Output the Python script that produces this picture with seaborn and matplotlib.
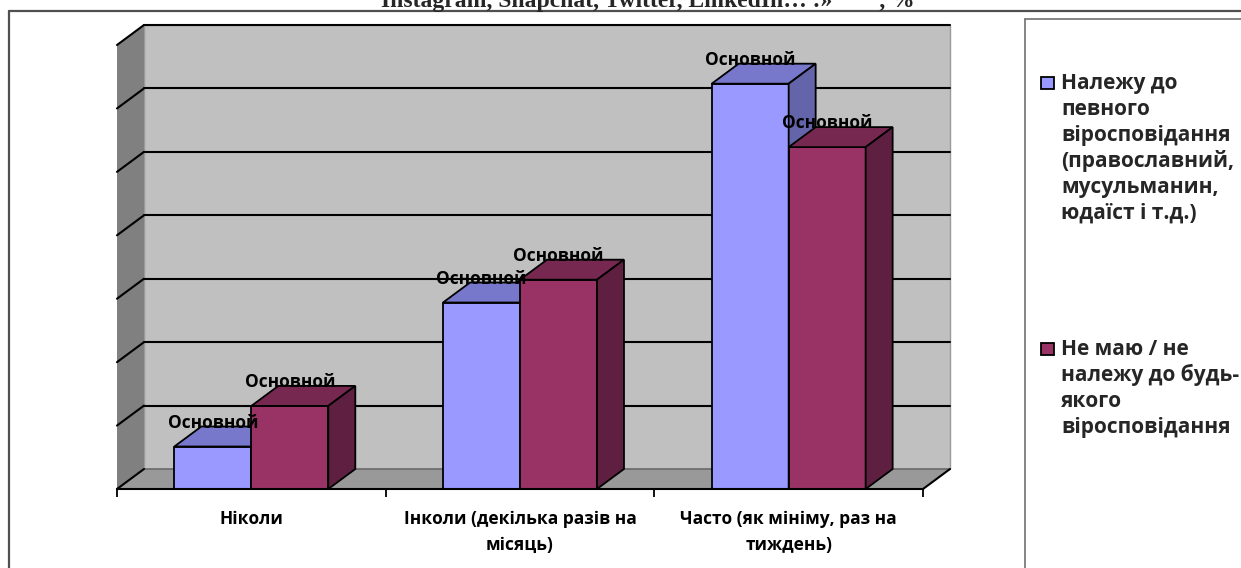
import matplotlib
matplotlib.use("Agg")
import matplotlib.pyplot as plt
import seaborn as sns
import pandas as pd
from matplotlib.patches import Polygon, Rectangle
from matplotlib.lines import Line2D

# ---------------- data ----------------
categories = ["Ніколи",
              "Інколи (декілька разів на місяць)",
              "Часто (як мініму, раз на тиждень)"]
tick_labels = ["Ніколи",
               "Інколи (декілька разів на\nмісяць)",
               "Часто (як мініму, раз на\nтиждень)"]
series_names = ["Належу до певного віросповідання (православний, мусульманин, юдаїст і т.д.)",
                "Не маю / не належу до будь-якого віросповідання"]
legend_lines = [["Належу до", "певного", "віросповідання", "(православний,",
                 "мусульманин,", "юдаїст і т.д.)"],
                ["Не маю / не", "належу до будь-", "якого", "віросповідання"]]
believers = [6.7, 29.4, 63.9]
non_believers = [13.1, 33.0, 53.9]
data_label = "Основной"
title = "Instagram, Snapchat, Twitter, LinkedIn… :»        , %"

front_colors = ["#9999FF", "#993366"]
top_colors = ["#7777CC", "#772850"]
side_colors = ["#6464AA", "#5E1F40"]

df = pd.DataFrame({
    "cat": categories * 2,
    "value": believers + non_believers,
    "series": [series_names[0]] * 3 + [series_names[1]] * 3,
})

sns.set_theme(style="white")
FONT = ["Open Sans", "DejaVu Sans"]
plt.rcParams["font.family"] = FONT

W, H = 1241, 568
fig = plt.figure(figsize=(W / 100, H / 100), dpi=100)
ax_l, ax_b, ax_w, ax_h = 117, 79, 806, 444
ax = fig.add_axes([ax_l / W, ax_b / H, ax_w / W, ax_h / H])
ax.patch.set_alpha(0)

YMAX = 70
ddx = 27 / (ax_w / 3)
ddy = 20 / (ax_h / YMAX)
x0, x1 = -0.5, 2.5

# walls & floor
ax.add_patch(Rectangle((x0 + ddx, ddy), 3, YMAX, facecolor="#C0C0C0",
                       edgecolor="#9a9a9a", lw=1, zorder=0, clip_on=False))
ax.add_patch(Polygon([(x0, 0), (x0, YMAX), (x0 + ddx, YMAX + ddy), (x0 + ddx, ddy)],
                     closed=True, facecolor="#808080", edgecolor="none", zorder=0.5, clip_on=False))
ax.add_patch(Polygon([(x0, 0), (x1, 0), (x1 + ddx, ddy), (x0 + ddx, ddy)],
                     closed=True, facecolor="#999999", edgecolor="none", zorder=0.5, clip_on=False))
ax.add_line(Line2D([x0 + ddx, x1 + ddx], [ddy, ddy], color="#6a6a6a", lw=1.2, zorder=0.6, clip_on=False))
ax.add_line(Line2D([x1, x1 + ddx], [0, ddy], color="black", lw=1.5, zorder=0.7, clip_on=False))
ax.add_line(Line2D([x0, x0 + ddx], [0, ddy], color="black", lw=1.5, zorder=0.7, clip_on=False))
for v in range(10, YMAX + 1, 10):
    ax.add_line(Line2D([x0 + ddx, x1 + ddx], [v + ddy, v + ddy], color="black",
                       lw=1.5, zorder=0.6, clip_on=False))
    ax.add_line(Line2D([x0, x0 + ddx], [v, v + ddy], color="black",
                       lw=1.5, zorder=0.6, clip_on=False))

# front faces
sns.barplot(data=df, x="cat", y="value", hue="series", order=categories,
            hue_order=series_names, palette=front_colors, width=0.573,
            saturation=1, edgecolor="black", linewidth=1.3, legend=False,
            errorbar=None, ax=ax)

bars = [p for p in ax.patches if isinstance(p, Rectangle) and p.get_height() > 0
        and p.get_width() < 1]
# bars are ordered: series 0 (3 cats), series 1 (3 cats)
for i, p in enumerate(bars[:6]):
    s = i // 3
    xl, w, h = p.get_x(), p.get_width(), p.get_height()
    z = 3 + s
    p.set_zorder(z)
    top = Polygon([(xl, h), (xl + w, h), (xl + w + ddx, h + ddy), (xl + ddx, h + ddy)],
                  closed=True, facecolor=top_colors[s], edgecolor="black", lw=1.3,
                  zorder=z + 0.5, clip_on=False)
    side = Polygon([(xl + w, 0), (xl + w, h), (xl + w + ddx, h + ddy), (xl + w + ddx, ddy)],
                   closed=True, facecolor=side_colors[s], edgecolor="black", lw=1.3,
                   zorder=z + 0.5, clip_on=False)
    ax.add_patch(top)
    ax.add_patch(side)
    ax.annotate(data_label, xy=(xl + w / 2, h), xytext=(0, 24), textcoords="offset pixels",
                ha="center", va="center", fontsize=12.5, fontweight="bold",
                color="black", family=FONT, zorder=10, annotation_clip=False)

ax.set_xlim(x0, x1)
ax.set_ylim(0, YMAX)
ax.set_xlabel("")
ax.set_ylabel("")
ax.set_yticks([])
for sp in ["top", "left", "right"]:
    ax.spines[sp].set_visible(False)
ax.spines["bottom"].set_color("black")
ax.spines["bottom"].set_linewidth(1.5)
ax.spines["bottom"].set_zorder(8)
ax.set_xticks([0, 1, 2])
ax.set_xticklabels(tick_labels, fontsize=12.5, fontweight="bold", family=FONT,
                   linespacing=1.6)
ax.set_xticks([-0.5, 0.5, 1.5, 2.5], minor=True)
ax.tick_params(axis="x", which="major", length=0, pad=15, colors="black")
ax.tick_params(axis="x", which="minor", length=6, width=1.3, color="black",
               direction="out", bottom=True)

# legend (manual)
line_gap = 26
starts = [89, 355]
for s in range(2):
    y_top_sq = starts[s] - 12.5
    fig.patches.append(Rectangle((1041 / W, 1 - (y_top_sq + 12.5) / H), 12.5 / W, 12.5 / H,
                                 transform=fig.transFigure, facecolor=front_colors[s],
                                 edgecolor="black", lw=1.3))
    for k, line in enumerate(legend_lines[s]):
        fig.text(1061 / W, 1 - (starts[s] + k * line_gap) / H, line, ha="left",
                 va="baseline", fontsize=15, fontweight="bold", family=FONT)

# frames
fig.add_artist(Line2D([9 / W, 1], [1 - 11 / H, 1 - 11 / H], color="#505050", lw=1.6,
                      transform=fig.transFigure))
fig.add_artist(Line2D([9 / W, 9 / W], [0, 1 - 11 / H], color="#505050", lw=1.6,
                      transform=fig.transFigure))
fig.add_artist(Line2D([1025 / W, 1025 / W], [0, 1 - 19 / H], color="#707070", lw=1.2,
                      transform=fig.transFigure))
fig.add_artist(Line2D([1025 / W, 1], [1 - 19 / H, 1 - 19 / H], color="#707070", lw=1.2,
                      transform=fig.transFigure))

# clipped title
fig.text(648 / W, 1 - 7 / H, title, ha="center", va="baseline", fontsize=17,
         fontweight="bold", family=["Liberation Serif", "DejaVu Serif"])

fig.savefig("out.png", dpi=100)
